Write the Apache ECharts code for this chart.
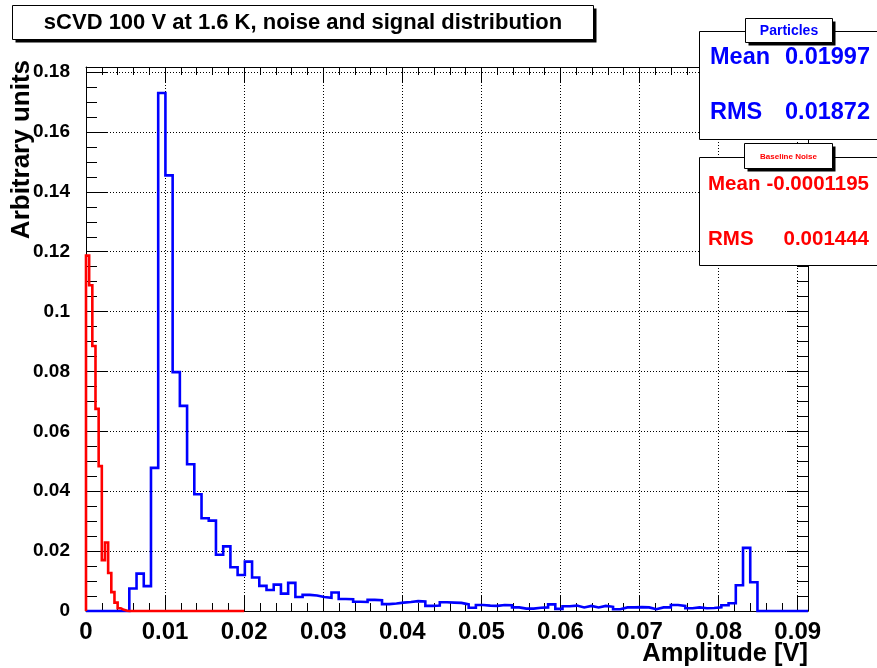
<!DOCTYPE html>
<html>
<head>
<meta charset="utf-8">
<script src="https://cdn.jsdelivr.net/npm/echarts@6/dist/echarts.min.js"></script>
<style>
  html, body { margin: 0; padding: 0; background: #ffffff; }
  #chart { width: 877px; height: 668px; }
</style>
</head>
<body>
<div id="chart"></div>
<script>
// Axis ranges [V] and [arbitrary units]
const X_MAX = 0.0913;
const Y_MAX = 0.1817;

// Tick labels
const xTickLabels = ['0', '0.01', '0.02', '0.03', '0.04', '0.05', '0.06', '0.07', '0.08', '0.09'];
const yTickLabels = ['0', '0.02', '0.04', '0.06', '0.08', '0.1', '0.12', '0.14', '0.16', '0.18'];

// Particle signal histogram: 100 bins from 0 to X_MAX
const particleBinWidth = 0.000913;
const particleCounts = [
  0, 0, 0, 0, 0, 0, 0.0075, 0.0125, 0.0083, 0.0478,
  0.1730, 0.1455, 0.0798, 0.0685, 0.0490, 0.0390, 0.0310, 0.0302, 0.0188, 0.0216,
  0.0146, 0.0120, 0.0165, 0.0112, 0.0084, 0.0070, 0.0088, 0.0058, 0.0094, 0.0047,
  0.0054, 0.0052, 0.0047, 0.0044, 0.0062, 0.0040, 0.0039, 0.0031, 0.0030, 0.0037,
  0.0036, 0.0023, 0.0025, 0.0028, 0.0030, 0.0033, 0.0032, 0.0017, 0.0018, 0.0029,
  0.0028, 0.0027, 0.0022, 0.0011, 0.0020, 0.0018, 0.0017, 0.0020, 0.0019, 0.0012,
  0.0008, 0.0008, 0.0011, 0.0012, 0.0022, 0.0007, 0.0016, 0.0018, 0.0012, 0.0017,
  0.0012, 0.0017, 0.0014, 0.0006, 0.0012, 0.0012, 0.0013, 0.0012, 0.0006, 0.0012,
  0.0012, 0.0020, 0.0017, 0.0009, 0.0012, 0.0009, 0.0010, 0.0012, 0.0019, 0.0026,
  0.0086, 0.0211, 0.0096, 0, 0, 0, 0, 0, 0, 0
];

// Baseline noise histogram: bins of 0.4 mV from 0 to 0.02 V
const noiseBinWidth = 0.0004;
const noiseCounts = [
  0.1187, 0.1088, 0.0885, 0.0675, 0.0484, 0.0170, 0.0229, 0.0127, 0.0063, 0.0028,
  0.0009, 0.0004, 0.0001, 0, 0, 0, 0, 0, 0, 0,
  0, 0, 0, 0, 0, 0, 0, 0, 0, 0,
  0, 0, 0, 0, 0, 0, 0, 0, 0, 0,
  0, 0, 0, 0, 0, 0, 0, 0, 0, 0
];

// Stats box texts
const particleStats = [['Mean', '0.01997'], ['RMS', '0.01872']];
const noiseStats = [['Mean', '-0.0001195'], ['RMS', '0.001444']];

const FONT = '"Liberation Sans", Arial, Helvetica, sans-serif';

// Outline of a histogram as step points (left edge of each bin + closing edge)
function histSteps(counts, width) {
  const pts = [[0, 0]];
  counts.forEach((c, i) => pts.push([i * width, c]));
  const end = counts.length * width;
  pts.push([end, counts[counts.length - 1]]);
  pts.push([end, 0]);
  return pts;
}

function labelFor(list, step) {
  return function (v) {
    const i = Math.round(v / step);
    if (Math.abs(v - i * step) > 1e-9) return '';
    return list[i] !== undefined ? list[i] : '';
  };
}

function xAxisDef(position, interval, tickLen, withLabels, withGrid) {
  return {
    type: 'value', position: position, min: 0, max: X_MAX, interval: interval,
    axisLine: { show: withGrid, onZero: false, lineStyle: { color: '#000', width: 1 } },
    axisTick: { show: true, inside: true, length: tickLen, lineStyle: { color: '#000', width: 1 } },
    axisLabel: {
      show: withLabels, showMaxLabel: false, margin: 9, color: '#000',
      fontSize: 24, fontWeight: 'bold', fontFamily: FONT,
      formatter: labelFor(xTickLabels, 0.01)
    },
    splitLine: { show: withGrid && withLabels, lineStyle: { color: '#000', width: 1, type: [1, 2] } }
  };
}

function yAxisDef(position, interval, tickLen, withLabels, withGrid) {
  return {
    type: 'value', position: position, min: 0, max: Y_MAX, interval: interval,
    axisLine: { show: withGrid, onZero: false, lineStyle: { color: '#000', width: 1 } },
    axisTick: { show: true, inside: true, length: tickLen, lineStyle: { color: '#000', width: 1 } },
    axisLabel: {
      show: withLabels, showMaxLabel: false, margin: 16, color: '#000',
      fontSize: 19, fontWeight: 'bold', fontFamily: FONT,
      formatter: labelFor(yTickLabels, 0.02)
    },
    splitLine: { show: withGrid && withLabels, lineStyle: { color: '#000', width: 1, type: [1, 2] } }
  };
}

function boxText(text, x, y, size, color, align) {
  return {
    type: 'text', x: x, y: y, z: 100,
    style: {
      text: text, fill: color, font: 'bold ' + size + 'px ' + FONT,
      align: align, textAlign: align, verticalAlign: 'middle', textVerticalAlign: 'middle'
    }
  };
}

function shadowBox(x, y, w, h, off) {
  return [
    { type: 'rect', z: 98, shape: { x: x + off, y: y + off, width: w, height: h }, style: { fill: '#000' } },
    { type: 'rect', z: 99, shape: { x: x, y: y, width: w, height: h }, style: { fill: '#fff', stroke: '#000', lineWidth: 1 } }
  ];
}

const graphics = [];
// Title
graphics.push(...shadowBox(12.5, 5.5, 581, 34, 3));
graphics.push(boxText('sCVD 100 V at 1.6 K, noise and signal distribution', 303, 22.5, 22, '#000', 'center'));

// Particles stats box
graphics.push({ type: 'rect', z: 97, shape: { x: 699.5, y: 31.5, width: 200, height: 108 }, style: { fill: '#fff', stroke: '#000', lineWidth: 1 } });
graphics.push(...shadowBox(745.5, 18.5, 87, 24, 3));
graphics.push(boxText('Particles', 789, 31, 14, '#0000ff', 'center'));
particleStats.forEach((row, i) => {
  graphics.push(boxText(row[0], 710, 58 + i * 55, 23.5, '#0000ff', 'left'));
  graphics.push(boxText(row[1], 870, 58 + i * 55, 23.5, '#0000ff', 'right'));
});

// Baseline noise stats box
graphics.push({ type: 'rect', z: 97, shape: { x: 699.5, y: 157.5, width: 200, height: 108 }, style: { fill: '#fff', stroke: '#000', lineWidth: 1 } });
graphics.push(...shadowBox(744.5, 143.5, 88, 25, 3));
graphics.push(boxText('Baseline Noise', 788.5, 156.5, 8, '#ff0000', 'center'));
noiseStats.forEach((row, i) => {
  graphics.push(boxText(row[0], 708, 184 + i * 55, 20.5, '#ff0000', 'left'));
  graphics.push(boxText(row[1], 869, 184 + i * 55, 20.5, '#ff0000', 'right'));
});

// Axis titles
graphics.push({
  type: 'text', x: 22, y: 60, rotation: Math.PI / 2, z: 100,
  style: { text: 'Arbitrary units', fill: '#000', font: 'bold 26px ' + FONT,
    align: 'right', textAlign: 'right', verticalAlign: 'middle', textVerticalAlign: 'middle' }
});
graphics.push(boxText('Amplitude [V]', 808, 654, 25.5, '#000', 'right'));

const chart = echarts.init(document.getElementById('chart'), null, { renderer: 'canvas' });
chart.setOption({
  animation: false,
  backgroundColor: '#ffffff',
  grid: { left: 86, right: 69, top: 67, bottom: 57, containLabel: false },
  xAxis: [
    xAxisDef('bottom', 0.01, 16, true, true),
    xAxisDef('bottom', 0.002, 8, false, false),
    xAxisDef('top', 0.01, 16, false, true),
    xAxisDef('top', 0.002, 8, false, false)
  ],
  yAxis: [
    yAxisDef('left', 0.02, 21, true, true),
    yAxisDef('left', 0.005, 11, false, false),
    yAxisDef('right', 0.02, 21, false, true),
    yAxisDef('right', 0.005, 11, false, false)
  ],
  series: [
    {
      name: 'Particles', type: 'line', step: 'end', xAxisIndex: 0, yAxisIndex: 0,
      data: histSteps(particleCounts, particleBinWidth),
      symbol: 'none', clip: false, silent: true, z: 3,
      lineStyle: { color: '#0000ff', width: 2.6, join: 'miter', cap: 'butt' }
    },
    {
      name: 'Baseline Noise', type: 'line', step: 'end', xAxisIndex: 0, yAxisIndex: 0,
      data: histSteps(noiseCounts, noiseBinWidth),
      symbol: 'none', clip: false, silent: true, z: 4,
      lineStyle: { color: '#ff0000', width: 2.6, join: 'miter', cap: 'butt' }
    }
  ],
  graphic: graphics
});
</script>
</body>
</html>
